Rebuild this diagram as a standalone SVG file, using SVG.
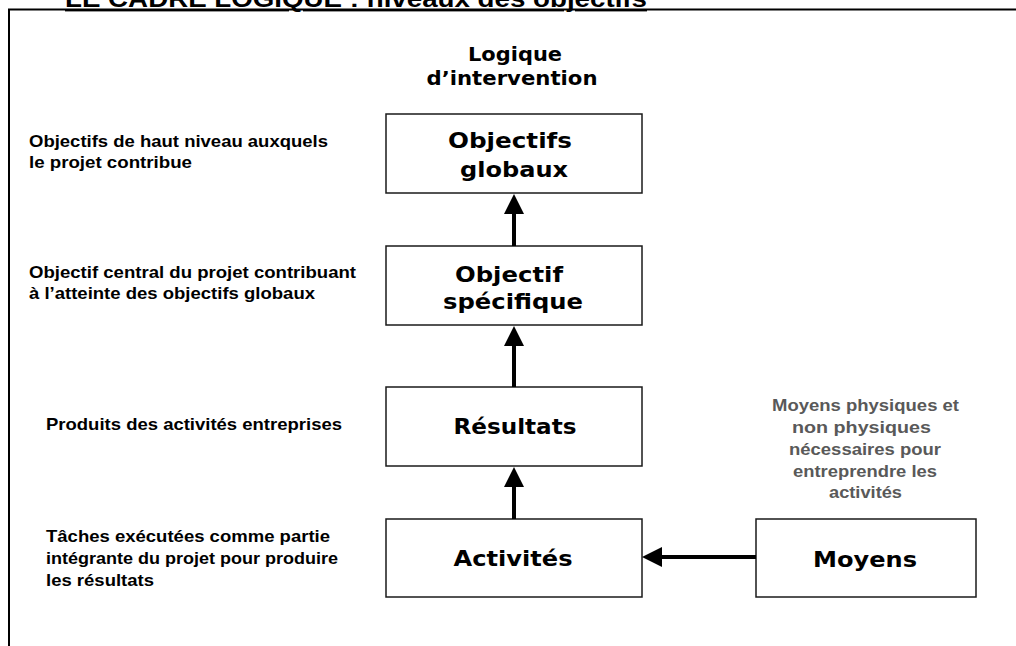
<svg xmlns="http://www.w3.org/2000/svg" width="1016" height="646" viewBox="0 0 1016 646">
<style>
.box{fill:#fff;stroke:#1a1a1a;stroke-width:1.5}
.bt{font-family:"DejaVu Sans",Verdana,sans-serif;font-weight:bold;font-size:22px;fill:#000;text-anchor:middle}
.lt{font-family:"Liberation Sans",Arial,sans-serif;font-weight:bold;font-size:16.5px;fill:#000}
.gt{font-family:"Liberation Sans",Arial,sans-serif;font-weight:bold;font-size:16.5px;fill:#595959;text-anchor:middle}
.hd{font-family:"DejaVu Sans",Verdana,sans-serif;font-weight:bold;font-size:20px;fill:#000;text-anchor:middle}
.con{stroke:#000;stroke-width:4;fill:none;marker-end:url(#ah)}
</style>
<defs>
<marker id="ah" viewBox="0 0 20 20" refX="0" refY="10" markerWidth="20" markerHeight="20" markerUnits="userSpaceOnUse" orient="auto">
<path d="M0,0 L20,10 L0,20 z" fill="#000"/>
</marker>
</defs>
<rect width="1016" height="646" fill="#fff"/>
<g id="frame">
<text x="65" y="7" font-family="Liberation Sans,Arial,sans-serif" font-weight="bold" font-size="24" textLength="582" lengthAdjust="spacingAndGlyphs" text-decoration="underline">LE CADRE LOGIQUE : niveaux des objectifs</text>
<path d="M9,646 V9.5 H1016" fill="none" stroke="#000" stroke-width="2"/>
</g>
<g id="header">
<text class="hd" x="515" y="61" textLength="94" lengthAdjust="spacingAndGlyphs">Logique</text>
<text class="hd" x="512" y="85" textLength="171" lengthAdjust="spacingAndGlyphs">d’intervention</text>
</g>
<g id="desc-left">
<text class="lt" x="29" y="147" textLength="299" lengthAdjust="spacingAndGlyphs">Objectifs de haut niveau auxquels</text>
<text class="lt" x="29" y="168" textLength="163" lengthAdjust="spacingAndGlyphs">le projet contribue</text>
<text class="lt" x="29" y="278" textLength="327" lengthAdjust="spacingAndGlyphs">Objectif central du projet contribuant</text>
<text class="lt" x="29" y="299" textLength="286" lengthAdjust="spacingAndGlyphs">à l’atteinte des objectifs globaux</text>
<text class="lt" x="46" y="430" textLength="296" lengthAdjust="spacingAndGlyphs">Produits des activités entreprises</text>
<text class="lt" x="46" y="542" textLength="284" lengthAdjust="spacingAndGlyphs">Tâches exécutées comme partie</text>
<text class="lt" x="46" y="564" textLength="292" lengthAdjust="spacingAndGlyphs">intégrante du projet pour produire</text>
<text class="lt" x="46" y="586" textLength="108" lengthAdjust="spacingAndGlyphs">les résultats</text>
</g>
<g id="desc-moyens">
<text class="gt" x="865.5" y="411" textLength="187" lengthAdjust="spacingAndGlyphs">Moyens physiques et</text>
<text class="gt" x="861.5" y="433" textLength="139" lengthAdjust="spacingAndGlyphs">non physiques</text>
<text class="gt" x="865" y="455" textLength="152" lengthAdjust="spacingAndGlyphs">nécessaires pour</text>
<text class="gt" x="865" y="477" textLength="144" lengthAdjust="spacingAndGlyphs">entreprendre les</text>
<text class="gt" x="865.5" y="498" textLength="73" lengthAdjust="spacingAndGlyphs">activités</text>
</g>
<g id="objectifs-globaux">
<rect class="box" x="386" y="114" width="256" height="79"/>
<text class="bt" x="510" y="148" textLength="124" lengthAdjust="spacingAndGlyphs">Objectifs</text>
<text class="bt" x="514" y="177" textLength="108" lengthAdjust="spacingAndGlyphs">globaux</text>
</g>
<g id="objectif-specifique">
<rect class="box" x="386" y="246" width="256" height="79"/>
<text class="bt" x="509" y="282" textLength="108" lengthAdjust="spacingAndGlyphs">Objectif</text>
<text class="bt" x="513" y="309" textLength="140" lengthAdjust="spacingAndGlyphs">spécifique</text>
</g>
<g id="resultats">
<rect class="box" x="386" y="387" width="256" height="79"/>
<text class="bt" x="515" y="434" textLength="123" lengthAdjust="spacingAndGlyphs">Résultats</text>
</g>
<g id="activites">
<rect class="box" x="386" y="519" width="256" height="78"/>
<text class="bt" x="513" y="566" textLength="119" lengthAdjust="spacingAndGlyphs">Activités</text>
</g>
<g id="moyens">
<rect class="box" x="756" y="519" width="220" height="78"/>
<text class="bt" x="865" y="567" textLength="104" lengthAdjust="spacingAndGlyphs">Moyens</text>
</g>
<g id="connectors">
<line class="con" x1="514" y1="246" x2="514" y2="214"/>
<line class="con" x1="514" y1="387" x2="514" y2="346"/>
<line class="con" x1="514" y1="519" x2="514" y2="487"/>
<line class="con" x1="756" y1="557" x2="662" y2="557"/>
</g>
</svg>
